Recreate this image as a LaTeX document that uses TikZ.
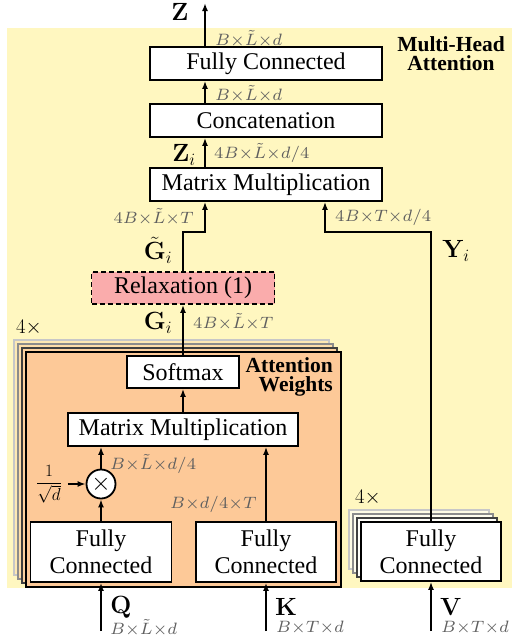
\documentclass[tikz,border=0pt]{standalone}
\usepackage[no-math]{fontspec}
\setmainfont{Liberation Serif}
\usetikzlibrary{arrows.meta}
\definecolor{mhyellow}{RGB}{255,247,192}
\definecolor{attorange}{RGB}{253,201,152}
\definecolor{relpink}{RGB}{250,172,172}
\definecolor{dimgray}{RGB}{95,95,95}
\newcommand{\dimtxt}[1]{\scalebox{2.35}{\fontsize{10}{12}\selectfont$\scriptstyle #1$}}
\tikzset{
  blk/.style={draw=black, line width=1.8pt, fill=white, inner sep=0pt, font=\fontsize{24}{27}\selectfont, align=center},
  arr/.style={line width=1.6pt, -{Latex[length=8pt,width=6pt]}},
  dimlbl/.style={text=dimgray, inner sep=0pt},
  varlbl/.style={font=\fontsize{24}{26}\selectfont, inner sep=0pt},
  ttl/.style={font=\fontsize{21.5}{24}\selectfont\bfseries, inner sep=0pt},
  layer/.style={line width=1.8pt},
}
\begin{document}
\begin{tikzpicture}[x=1pt,y=-1pt]
\useasboundingbox (0,0) rectangle (514,640);
% background
\fill[mhyellow] (7,28) rectangle (512,588);
\node[ttl, align=center] (mhatitle) at (451,54) {Multi-Head\\[-5pt]Attention};

% attention weights stack
\filldraw[layer, draw=black!22, fill=attorange!30!mhyellow] (14,340) rectangle (329,575);
\filldraw[layer, draw=black!45, fill=attorange!55!mhyellow] (18,344) rectangle (333,579);
\filldraw[layer, draw=black!75, fill=attorange!80!mhyellow] (22,348) rectangle (337,583);
\filldraw[layer, draw=black, fill=attorange] (26,352) rectangle (341,587);
\node[ttl, align=right, anchor=east] (awtitle) at (333,377) {Attention\\[-5pt]Weights};
\node[varlbl, font=\fontsize{22}{24}\selectfont] (rep1) at (29,328) {$4\times$};

% V stack
\filldraw[layer, draw=black!22, fill=white!60!mhyellow] (349,510) rectangle (489,569);
\filldraw[layer, draw=black!45, fill=white!75!mhyellow] (353,514) rectangle (493,573);
\filldraw[layer, draw=black!75, fill=white!90!mhyellow] (357,518) rectangle (497,577);
\node[varlbl, font=\fontsize{22}{24}\selectfont] (rep2) at (368,498) {$4\times$};

% main blocks
\node[blk, minimum width=232pt, minimum height=33pt] (fcout) at (266,63.5) {Fully Connected};
\node[blk, minimum width=232pt, minimum height=33pt] (concat) at (266,120.5) {Concatenation};
\node[blk, minimum width=232pt, minimum height=33pt] (mmout) at (266,184.5) {Matrix Multiplication};
\node[blk, fill=relpink, dash pattern=on 5pt off 3pt, minimum width=183pt, minimum height=32pt] (relax) at (183,288) {Relaxation (1)};
\node[blk, minimum width=112pt, minimum height=32pt] (softmax) at (183,372) {Softmax};
\node[blk, minimum width=230pt, minimum height=33pt] (mmin) at (183,429.5) {Matrix Multiplication};
\node[blk, circle, minimum size=29pt, font=\fontsize{28}{28}\selectfont] (mul) at (101,484) {$\times$};
\node[blk, minimum width=141pt, minimum height=60pt] (fcq) at (101,552) {Fully\\Connected};
\node[blk, minimum width=140pt, minimum height=60pt] (fck) at (266,552) {Fully\\Connected};
\node[blk, minimum width=140pt, minimum height=59pt] (fcv) at (431,551.5) {Fully\\Connected};
\node[inner sep=1pt, font=\fontsize{18}{20}\selectfont] (scale) at (49,484) {$\displaystyle\frac{1}{\sqrt{d}}$};

% helper coordinates
\coordinate (ax) at (205,0);
\coordinate (vx) at (325,0);
\coordinate (gy) at (0,232);
\coordinate (zend) at (205,3);
\coordinate (qin) at (101,631);
\coordinate (kin) at (266,631);
\coordinate (vin) at (431,631);

% connectors
\draw[arr] (fcout.north -| ax) -- (zend);
\draw[arr] (concat.north -| ax) -- (fcout.south -| ax);
\draw[arr] (mmout.north -| ax) -- (concat.south -| ax);
\draw[arr] (relax.north) -- (relax.north |- gy) -- (gy -| ax) -- (mmout.south -| ax);
\draw[arr] (fcv.north) -- (fcv.north |- gy) -- (gy -| vx) -- (mmout.south -| vx);
\draw[arr] (softmax.north) -- (relax.south);
\draw[arr] (mmin.north) -- (softmax.south);
\draw[arr] (mul.north) -- (mmin.south -| mul);
\draw[arr] (fcq.north) -- (mul.south);
\draw[arr] (fck.north) -- (mmin.south -| fck);
\draw[arr, shorten <=5pt] (scale.east) -- (mul.west);
\draw[arr] (qin) -- (fcq.south);
\draw[arr] (kin) -- (fck.south);
\draw[arr] (vin) -- (fcv.south);

% labels
\node[varlbl] (zlbl) at (180,12) {$\mathbf{Z}$};
\node[dimlbl, anchor=west] (d1) at (215,39) {\dimtxt{B\times\tilde{L}\times d}};
\node[dimlbl, anchor=west] (d2) at (215,94) {\dimtxt{B\times\tilde{L}\times d}};
\node[varlbl] (zilbl) at (184,155) {$\mathbf{Z}_i$};
\node[dimlbl, anchor=west] (d3) at (214,153) {\dimtxt{4B\times\tilde{L}\times d/4}};
\node[dimlbl, anchor=east] (d4) at (194,217) {\dimtxt{4B\times\tilde{L}\times T}};
\node[dimlbl, anchor=west] (d5) at (335,217) {\dimtxt{4B\times T\times d/4}};
\node[varlbl] (gtlbl) at (158,250) {$\tilde{\mathbf{G}}_i$};
\node[varlbl] (yilbl) at (456,251) {$\mathbf{Y}_i$};
\node[varlbl] (gilbl) at (158,323) {$\mathbf{G}_i$};
\node[dimlbl, anchor=west] (d6) at (193,322) {\dimtxt{4B\times\tilde{L}\times T}};
\node[dimlbl, anchor=west] (d7) at (110,464) {\dimtxt{B\times\tilde{L}\times d/4}};
\node[dimlbl, anchor=east] (d8) at (257,504) {\dimtxt{B\times d/4\times T}};
\node[varlbl] (qlbl) at (121,607) {$\mathbf{Q}$};
\node[varlbl] (klbl) at (286,607) {$\mathbf{K}$};
\node[varlbl] (vlbl) at (451,607) {$\mathbf{V}$};
\node[dimlbl, anchor=west] (d9) at (110,628) {\dimtxt{B\times\tilde{L}\times d}};
\node[dimlbl, anchor=west] (d10) at (276,628) {\dimtxt{B\times T\times d}};
\node[dimlbl, anchor=west] (d11) at (441,628) {\dimtxt{B\times T\times d}};
\end{tikzpicture}
\end{document}
